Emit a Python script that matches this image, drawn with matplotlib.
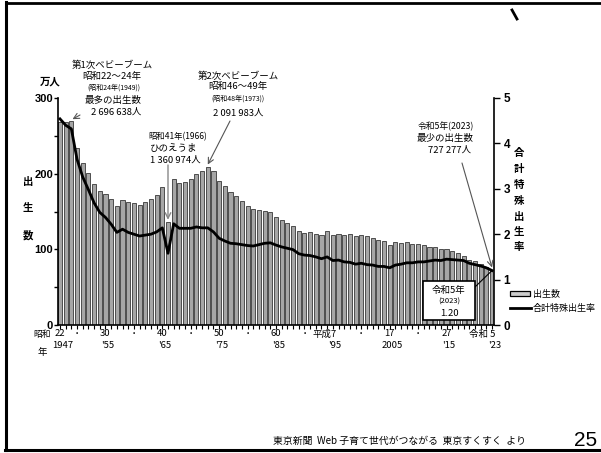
import matplotlib
matplotlib.use('Agg')
import matplotlib.pyplot as plt
from matplotlib.lines import Line2D
from matplotlib.patches import Rectangle
from matplotlib.transforms import blended_transform_factory
from matplotlib.ticker import FixedLocator

plt.rcParams['font.family'] = ['Noto Sans CJK JP', 'DejaVu Sans']

years = list(range(1947, 2024))
births = [267.9, 268.2, 269.7, 233.8, 213.8, 200.5, 186.8, 177.0, 173.1, 166.5,
          156.7, 165.3, 162.6, 160.6, 158.9, 161.9, 166.0, 171.7, 182.4, 136.1,
          193.5, 187.2, 188.9, 193.4, 200.1, 203.9, 209.2, 203.0, 190.1, 183.3,
          175.5, 170.9, 164.3, 157.7, 152.9, 151.5, 150.9, 149.0, 143.2, 138.3,
          134.7, 131.4, 124.7, 122.2, 122.3, 120.9, 118.8, 123.8, 118.7, 120.7,
          119.2, 120.3, 117.8, 119.1, 117.1, 115.4, 112.4, 111.1, 106.3, 109.3,
          109.0, 109.1, 107.0, 107.1, 105.1, 103.7, 103.0, 100.4, 100.6, 97.7,
          94.6, 91.8, 86.5, 84.1, 81.2, 77.1, 72.7]
tfr = [4.54, 4.40, 4.32, 3.65, 3.26, 2.98, 2.69, 2.48, 2.37, 2.22,
       2.04, 2.11, 2.04, 2.00, 1.96, 1.98, 2.00, 2.05, 2.14, 1.58,
       2.23, 2.13, 2.13, 2.13, 2.16, 2.14, 2.14, 2.05, 1.91, 1.85,
       1.80, 1.79, 1.77, 1.75, 1.74, 1.77, 1.80, 1.81, 1.76, 1.72,
       1.69, 1.66, 1.57, 1.54, 1.53, 1.50, 1.46, 1.50, 1.42, 1.43,
       1.39, 1.38, 1.34, 1.36, 1.33, 1.32, 1.29, 1.29, 1.26, 1.32,
       1.34, 1.37, 1.37, 1.39, 1.39, 1.41, 1.43, 1.42, 1.45, 1.44,
       1.43, 1.42, 1.36, 1.33, 1.30, 1.26, 1.20]

row1_years = [1947, 1955, 1965, 1975, 1985, 1995, 2005, 2015, 2023]
row1_labels = ['22', '30', '40', '50', '60', '平成7', '17', '27', '令和 5']
row2_labels = ['1947', "'55", "'65", "'75", "'85", "'95", '2005', "'15", "'23"]
dot_years = [1950, 1960, 1970, 1980, 1990, 2000, 2010]
left_ticks = [0, 100, 200, 300]
right_ticks = [0, 1, 2, 3, 4, 5]

W, H = 601, 453
fig = plt.figure(figsize=(W / 100, H / 100), dpi=100)
def fx(px): return px / W
def fy(py): return 1 - py / H

ax = fig.add_axes([fx(58), fy(325), fx(494) - fx(58), fy(98) - fy(325)])
ax.bar(years, births, width=0.72, color='#a6a6a6', edgecolor='#1a1a1a', linewidth=0.5)
ax.set_xlim(1946.65, 2023.35)
ax.set_ylim(0, 300)
ax.spines['top'].set_visible(False)
ax.spines['right'].set_visible(False)
ax.spines['left'].set_linewidth(1.2)
ax.spines['bottom'].set_linewidth(1.2)
ax.set_yticks(left_ticks)
ax.yaxis.set_minor_locator(FixedLocator([50, 150, 250]))
ax.set_yticklabels([str(v) for v in left_ticks], fontsize=8, family='Liberation Sans', fontweight='bold')
ax.tick_params(axis='y', which='major', length=3, width=1, direction='out', pad=0.5)
ax.tick_params(axis='y', which='minor', length=3, width=1, direction='out')
ax.set_xticks(years)
ax.set_xticklabels([])
ax.tick_params(axis='x', length=3, width=0.8, direction='out')

ax2 = ax.twinx()
ax2.plot(years, tfr, color='black', lw=2)
ax2.set_ylim(0, 5)
ax2.spines['top'].set_visible(False)
ax2.spines['left'].set_visible(False)
ax2.spines['bottom'].set_visible(False)
ax2.spines['right'].set_linewidth(1.2)
ax2.set_yticks(right_ticks)
ax2.set_yticklabels([str(v) for v in right_ticks], fontsize=8.5, family='Liberation Sans', fontweight='bold')
ax2.tick_params(axis='y', length=4, width=1, direction='out', pad=3)

# bottom year labels
bt = blended_transform_factory(ax.transData, fig.transFigure)
for yv, l1, l2 in zip(row1_years, row1_labels, row2_labels):
    if len(l1) > 2:
        ax.text(yv + 0.6, fy(334), l1, transform=bt, ha='right', va='center', fontsize=6.8)
    else:
        ax.text(yv, fy(334), l1, transform=bt, ha='center', va='center', fontsize=6.8)
    ax.text(yv + 0.4, fy(345), l2, transform=bt, ha='center', va='center', fontsize=6.8)
for yv in dot_years:
    ax.text(yv, fy(334), '・', transform=bt, ha='center', va='center', fontsize=6)
fig.text(fx(42), fy(335), '昭和', ha='center', va='center', fontsize=6.3)
fig.text(fx(42), fy(352), '年', ha='center', va='center', fontsize=6.8)

# axis titles
fig.text(fx(50), fy(82), '万人', ha='center', va='center', fontsize=7.5, fontweight='bold')
for ch, py in zip('出生数', [182, 208, 235]):
    fig.text(fx(28), fy(py), ch, ha='center', va='center', fontsize=7.5, fontweight='bold')
for ch, py in zip('合計特殊出生率', [153, 169, 185, 201, 217, 232, 247]):
    fig.text(fx(519), fy(py), ch, ha='center', va='center', fontsize=7.5, fontweight='bold')

# annotations
def t(px, py, s, fs=6.8, **kw):
    fig.text(fx(px), fy(py), s, ha='center', va='center', fontsize=fs, **kw)

t(112, 65, '第1次ベビーブーム')
t(112, 76, '昭和22～24年')
t(114, 88, '(昭和24年(1949))', fs=5)
t(113, 101, '最多の出生数')
t(116, 112, '2 696 638人')

t(238, 76, '第2次ベビーブーム')
t(238, 87, '昭和46～49年')
t(238, 99, '(昭和48年(1973))', fs=5)
t(238, 113, '2 091 983人')

t(178, 137, '昭和41年(1966)', fs=6)
t(174, 149, 'ひのえうま')
t(175, 160, '1 360 974人')

t(446, 126, '令和5年(2023)', fs=6.3)
t(445, 138, '最少の出生数')
t(450, 150, '727 277人')

arr = dict(arrowstyle='->', color='#555555', lw=0.8, shrinkA=0, shrinkB=0)
ax2.annotate('', xy=(1949.2, 272), xycoords=ax.transData,
             xytext=(fx(80), fy(115)), textcoords='figure fraction', arrowprops=arr)
ax2.annotate('', xy=(1973, 212), xycoords=ax.transData,
             xytext=(fx(230), fy(121)), textcoords='figure fraction', arrowprops=arr)
ax2.annotate('', xy=(1966, 139), xycoords=ax.transData,
             xytext=(fx(168), fy(165)), textcoords='figure fraction',
             arrowprops=dict(arrowstyle='->', color='#888888', lw=1.0, shrinkA=0, shrinkB=0))
ax2.annotate('', xy=(2023, 76), xycoords=ax.transData,
             xytext=(fx(462), fy(163)), textcoords='figure fraction', arrowprops=arr)

# 2023 TFR box
fig.add_artist(Rectangle((fx(423), fy(320)), fx(475) - fx(423), fy(281) - fy(320),
                         transform=fig.transFigure, facecolor='white', edgecolor='black',
                         lw=1.2, zorder=5))
ax2.annotate('', xy=(2023, tfr[-1]), xycoords='data',
             xytext=(fx(475), fy(287)), textcoords='figure fraction',
             arrowprops=dict(arrowstyle='-', color='black', lw=0.8, shrinkA=0, shrinkB=0))
fig.text(fx(449), fy(290), '令和5年', ha='center', va='center', fontsize=6.8, zorder=6)
fig.text(fx(449), fy(302), '(2023)', ha='center', va='center', fontsize=5.5, zorder=6)
fig.text(fx(449), fy(313), '1.20', ha='center', va='center', fontsize=6.8, zorder=6)

# legend
fig.add_artist(Rectangle((fx(510), fy(296)), fx(530) - fx(510), fy(291) - fy(296),
                         transform=fig.transFigure, facecolor='#cccccc', edgecolor='black', lw=0.9))
fig.text(fx(533), fy(294), '出生数', ha='left', va='center', fontsize=6.5)
fig.add_artist(Line2D([fx(510), fx(531)], [fy(308), fy(308)], transform=fig.transFigure,
                      color='black', lw=2))
fig.text(fx(533), fy(308), '合計特殊出生率', ha='left', va='center', fontsize=6.5)

# footer
fig.text(fx(273), fy(441), '東京新聞  Web 子育て世代がつながる  東京すくすく  より',
         ha='left', va='center', fontsize=7.1)
fig.text(fx(586), fy(440), '25', ha='center', va='center', fontsize=15,
         family='Liberation Sans')

# frame
fig.add_artist(Line2D([fx(6), fx(601)], [fy(2.5), fy(2.5)], transform=fig.transFigure, color='black', lw=2))
fig.add_artist(Line2D([fx(6), fx(6)], [fy(2), fy(450)], transform=fig.transFigure, color='black', lw=2.2))
fig.add_artist(Line2D([fx(5), fx(601)], [fy(449.5), fy(449.5)], transform=fig.transFigure, color='black', lw=2.2))
fig.add_artist(Line2D([fx(512), fx(517)], [fy(10), fy(19)], transform=fig.transFigure, color='black', lw=2))

fig.savefig('out.png', dpi=100)
